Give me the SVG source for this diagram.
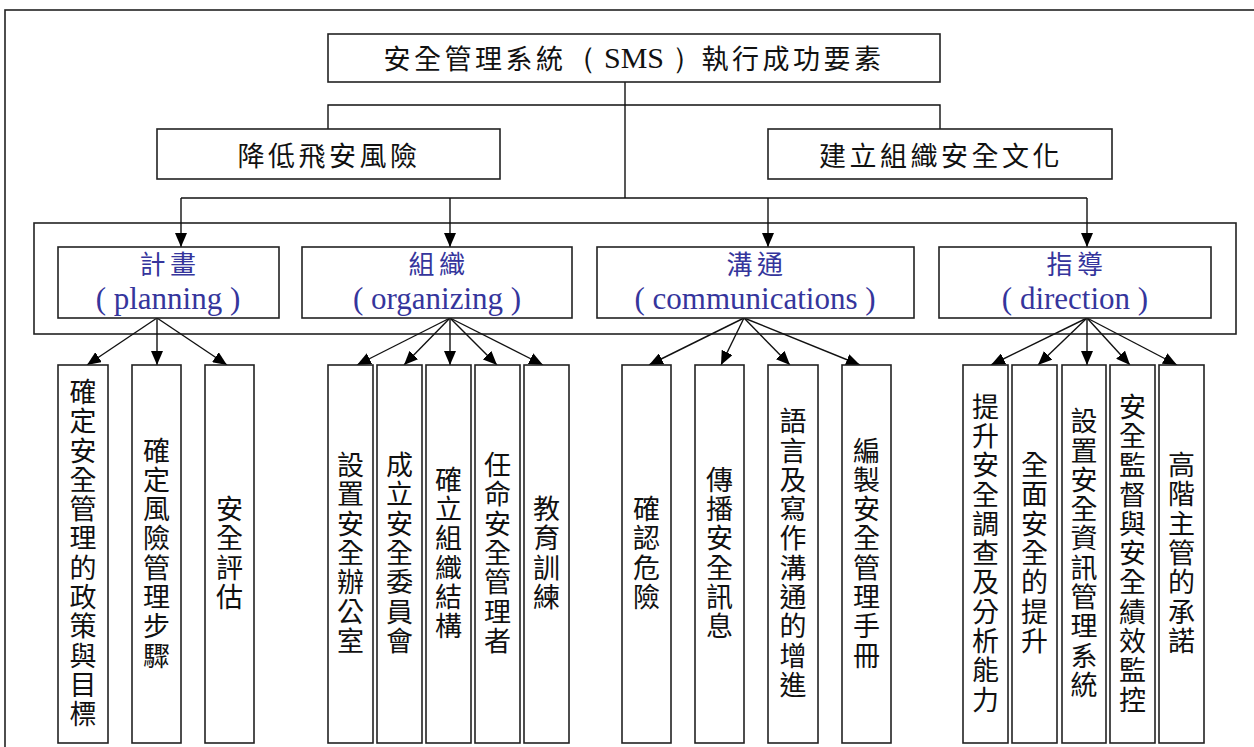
<svg xmlns="http://www.w3.org/2000/svg" width="1254" height="747" viewBox="0 0 1254 747">
<style>
.box{fill:#fff;stroke:#222;stroke-width:1.6}
.frame{fill:none;stroke:#222;stroke-width:1.6}
.ln{fill:none;stroke:#111;stroke-width:1.4}
.ar{fill:none;stroke:#111;stroke-width:1.4;marker-end:url(#ah)}
.cj{font-family:"Noto Sans CJK TC","Noto Sans CJK SC",sans-serif;fill:#111}
.h{font-size:27px;letter-spacing:3.5px;text-anchor:middle;dominant-baseline:central}
.ser{font-family:"Liberation Serif","Times New Roman",serif;font-size:30px;letter-spacing:0}
.cat{font-family:"Noto Sans CJK TC","Noto Sans CJK SC",sans-serif;font-size:26px;letter-spacing:4.5px;text-anchor:middle;dominant-baseline:central;fill:#35359c}
.en{font-family:"Liberation Serif","Times New Roman",serif;font-size:31px;text-anchor:middle;fill:#35359c}
.v{font-size:27px;letter-spacing:2.3px;text-anchor:middle;writing-mode:vertical-rl}
</style>
<defs>
<marker id="ah" viewBox="0 0 14 12" refX="14" refY="6" markerWidth="14" markerHeight="12" markerUnits="userSpaceOnUse" orient="auto">
<path d="M0,0 L14,6 L0,12 z" fill="#000"/>
</marker>
</defs>
<rect class="frame" x="5" y="10" width="1265" height="750"/>
<rect class="frame" x="34" y="223" width="1202" height="111"/>

<g id="connectors">
<path class="ln" d="M625,82 V198"/>
<path class="ln" d="M328,129 V105 H940 V129"/>
<path class="ln" d="M181,198 H1087"/>
<path class="ar" d="M181,198 V247"/>
<path class="ar" d="M450,198 V247"/>
<path class="ar" d="M768,198 V247"/>
<path class="ar" d="M1087,198 V247"/>
<path class="ar" d="M157,318 L87,365"/>
<path class="ar" d="M157,318 L157,365"/>
<path class="ar" d="M157,318 L227,365"/>
<path class="ar" d="M450,318 L357,365"/>
<path class="ar" d="M450,318 L404,365"/>
<path class="ar" d="M450,318 L450,365"/>
<path class="ar" d="M450,318 L497,365"/>
<path class="ar" d="M450,318 L543,365"/>
<path class="ar" d="M744,318 L649,365"/>
<path class="ar" d="M744,318 L721,365"/>
<path class="ar" d="M744,318 L790,365"/>
<path class="ar" d="M744,318 L860,365"/>
<path class="ar" d="M1087,318 L991,365"/>
<path class="ar" d="M1087,318 L1038,365"/>
<path class="ar" d="M1087,318 L1087,365"/>
<path class="ar" d="M1087,318 L1130,365"/>
<path class="ar" d="M1087,318 L1177,365"/>
</g>

<g id="title">
<rect class="box" x="328" y="34" width="612" height="48"/>
<text class="cj h" x="634" y="57">安全管理系統<tspan class="ser">（ SMS ）</tspan>執行成功要素</text>
</g>
<g id="reduce-risk">
<rect class="box" x="157" y="129" width="343" height="50"/>
<text class="cj h" x="329" y="154">降低飛安風險</text>
</g>
<g id="safety-culture">
<rect class="box" x="768" y="129" width="344" height="50"/>
<text class="cj h" x="941" y="154">建立組織安全文化</text>
</g>

<g id="planning">
<rect class="box" x="58" y="247" width="221" height="71"/>
<text class="cat" x="170" y="262">計畫</text>
<text class="en" x="168" y="309">( planning )</text>
</g>
<g id="organizing">
<rect class="box" x="302" y="247" width="270" height="71"/>
<text class="cat" x="439" y="262">組織</text>
<text class="en" x="437" y="309">( organizing )</text>
</g>
<g id="communications">
<rect class="box" x="597" y="247" width="317" height="71"/>
<text class="cat" x="757" y="262">溝通</text>
<text class="en" x="755" y="309">( communications )</text>
</g>
<g id="direction">
<rect class="box" x="939" y="247" width="272" height="71"/>
<text class="cat" x="1077" y="262">指導</text>
<text class="en" x="1075" y="309">( direction )</text>
</g>

<g id="p1"><rect class="box" x="58" y="365" width="50" height="378"/><text class="cj v" x="83" y="554">確定安全管理的政策與目標</text></g>
<g id="p2"><rect class="box" x="132" y="365" width="49" height="378"/><text class="cj v" x="156.5" y="554">確定風險管理步驟</text></g>
<g id="p3"><rect class="box" x="205" y="365" width="49" height="378"/><text class="cj v" x="229.5" y="554">安全評估</text></g>

<g id="o1"><rect class="box" x="328" y="365" width="45" height="378"/><text class="cj v" x="350.5" y="554">設置安全辦公室</text></g>
<g id="o2"><rect class="box" x="377" y="365" width="45" height="378"/><text class="cj v" x="399.5" y="554">成立安全委員會</text></g>
<g id="o3"><rect class="box" x="426" y="365" width="45" height="378"/><text class="cj v" x="448.5" y="554">確立組織結構</text></g>
<g id="o4"><rect class="box" x="475" y="365" width="45" height="378"/><text class="cj v" x="497.5" y="554">任命安全管理者</text></g>
<g id="o5"><rect class="box" x="524" y="365" width="45" height="378"/><text class="cj v" x="546.5" y="554">教育訓練</text></g>

<g id="c1"><rect class="box" x="622" y="365" width="49" height="378"/><text class="cj v" x="646.5" y="554">確認危險</text></g>
<g id="c2"><rect class="box" x="695" y="365" width="49" height="378"/><text class="cj v" x="719.5" y="554">傳播安全訊息</text></g>
<g id="c3"><rect class="box" x="768" y="365" width="50" height="378"/><text class="cj v" x="793" y="554">語言及寫作溝通的增進</text></g>
<g id="c4"><rect class="box" x="842" y="365" width="49" height="378"/><text class="cj v" x="866.5" y="554">編製安全管理手冊</text></g>

<g id="d1"><rect class="box" x="963" y="365" width="45" height="378"/><text class="cj v" x="985.5" y="554">提升安全調查及分析能力</text></g>
<g id="d2"><rect class="box" x="1012" y="365" width="45" height="378"/><text class="cj v" x="1034.5" y="554">全面安全的提升</text></g>
<g id="d3"><rect class="box" x="1062" y="365" width="44" height="378"/><text class="cj v" x="1084" y="554">設置安全資訊管理系統</text></g>
<g id="d4"><rect class="box" x="1110" y="365" width="45" height="378"/><text class="cj v" x="1132.5" y="554">安全監督與安全績效監控</text></g>
<g id="d5"><rect class="box" x="1159" y="365" width="45" height="378"/><text class="cj v" x="1181.5" y="554">高階主管的承諾</text></g>
</svg>
